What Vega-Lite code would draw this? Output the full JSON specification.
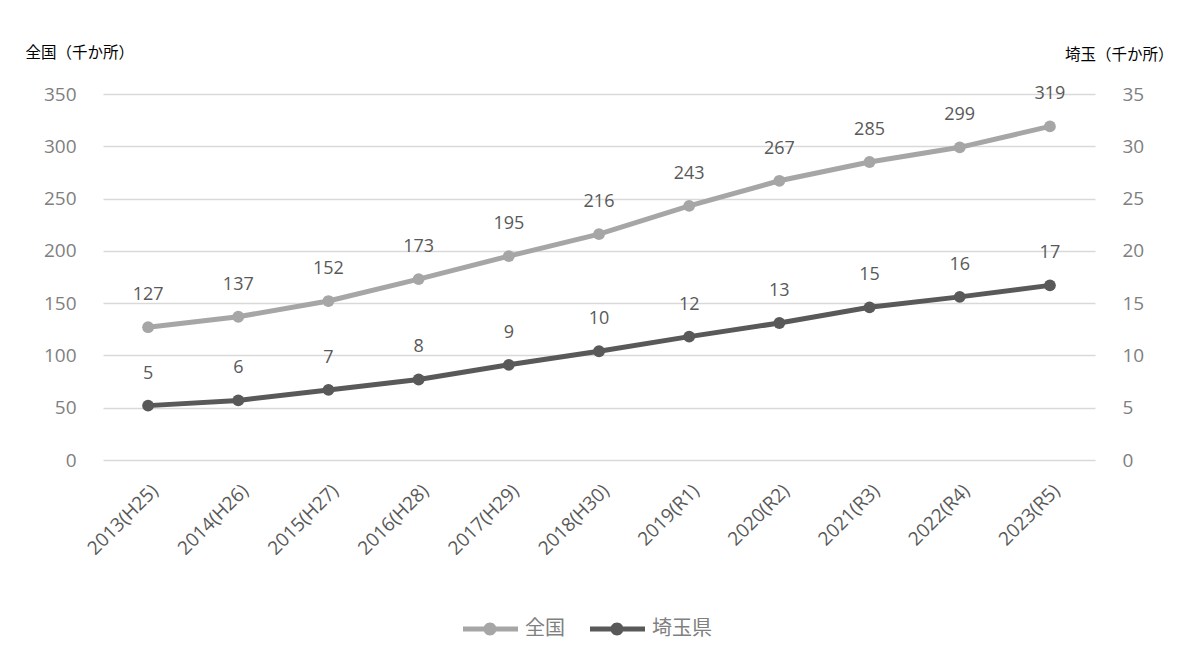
{
  "$schema": "https://vega.github.io/schema/vega-lite/v6.json",
  "width": 992,
  "height": 366,
  "autosize": "none",
  "padding": {"left": 103, "top": 94, "right": 87, "bottom": 200},
  "background": "#ffffff",
  "config": {
    "view": {"stroke": null},
    "font": "Open Sans",
    "axis": {"domain": false, "ticks": false, "grid": false, "labelFont": "Open Sans"}
  },
  "data": {
    "values": [
      {"year": "2013(H25)", "series": "全国", "value": 127},
      {"year": "2014(H26)", "series": "全国", "value": 137},
      {"year": "2015(H27)", "series": "全国", "value": 152},
      {"year": "2016(H28)", "series": "全国", "value": 173},
      {"year": "2017(H29)", "series": "全国", "value": 195},
      {"year": "2018(H30)", "series": "全国", "value": 216},
      {"year": "2019(R1)", "series": "全国", "value": 243},
      {"year": "2020(R2)", "series": "全国", "value": 267},
      {"year": "2021(R3)", "series": "全国", "value": 285},
      {"year": "2022(R4)", "series": "全国", "value": 299},
      {"year": "2023(R5)", "series": "全国", "value": 319},
      {"year": "2013(H25)", "series": "埼玉県", "value": 5.2},
      {"year": "2014(H26)", "series": "埼玉県", "value": 5.7},
      {"year": "2015(H27)", "series": "埼玉県", "value": 6.7},
      {"year": "2016(H28)", "series": "埼玉県", "value": 7.7},
      {"year": "2017(H29)", "series": "埼玉県", "value": 9.1},
      {"year": "2018(H30)", "series": "埼玉県", "value": 10.4},
      {"year": "2019(R1)", "series": "埼玉県", "value": 11.8},
      {"year": "2020(R2)", "series": "埼玉県", "value": 13.1},
      {"year": "2021(R3)", "series": "埼玉県", "value": 14.6},
      {"year": "2022(R4)", "series": "埼玉県", "value": 15.6},
      {"year": "2023(R5)", "series": "埼玉県", "value": 16.7}
    ]
  },
  "encoding": {
    "x": {
      "field": "year",
      "type": "nominal",
      "sort": null,
      "scale": {"type": "point", "padding": 0.5},
      "axis": {
        "title": null,
        "labelAngle": -45,
        "labelFontSize": 19,
        "labelColor": "#595959",
        "labelPadding": 21
      }
    },
    "color": {
      "field": "series",
      "type": "nominal",
      "scale": {"domain": ["全国", "埼玉県"], "range": ["#a6a6a6", "#595959"]},
      "legend": {
        "title": null,
        "orient": "none",
        "direction": "horizontal",
        "legendX": 377,
        "legendY": 525,
        "padding": 0,
        "symbolType": "M-2.7,-0.25H2.8V0.25H-2.7Z M-0.65,0A0.65,0.65 0 1,1 0.65,0A0.65,0.65 0 1,1 -0.65,0Z",
        "symbolSize": 400,
        "symbolStrokeWidth": 0,
        "labelOffset": 25,
        "columnPadding": 25,
        "labelFont": "Noto Sans CJK JP",
        "labelFontSize": 20,
        "labelColor": "#808080",
        "encode": {
          "symbols": {
            "update": {
              "fill": {"scale": "color", "field": "value"},
              "stroke": {"value": "transparent"},
              "opacity": {"value": 1}
            }
          }
        }
      }
    }
  },
  "layer": [
    {
      "transform": [{"filter": "datum.series === '全国'"}],
      "encoding": {
        "y": {
          "field": "value",
          "type": "quantitative",
          "scale": {"domain": [0, 350], "nice": false},
          "axis": {
            "orient": "left",
            "values": [0, 50, 100, 150, 200, 250, 300, 350],
            "grid": true,
            "gridColor": "#d9d9d9",
            "gridWidth": 1.5,
            "labelFontSize": 19,
            "labelColor": "#7f7f7f",
            "labelPadding": 27,
            "title": "全国（千か所）",
            "titleFont": "Noto Sans CJK JP",
            "titleFontSize": 15.5,
            "titleFontWeight": "normal",
            "titleColor": "#000000",
            "titleAngle": 0,
            "titleAlign": "left",
            "titleBaseline": "middle",
            "titleX": -78,
            "titleY": -42
          }
        }
      },
      "layer": [
        {"mark": {"type": "line", "strokeWidth": 5}},
        {"mark": {"type": "point", "filled": true, "size": 140, "opacity": 1}},
        {
          "mark": {"type": "text", "dy": -32, "fontSize": 18, "baseline": "middle", "font": "Open Sans"},
          "encoding": {
            "text": {"field": "value", "type": "quantitative", "format": ".0f"},
            "color": {"value": "#595959"}
          }
        }
      ]
    },
    {
      "transform": [{"filter": "datum.series === '埼玉県'"}],
      "encoding": {
        "y": {
          "field": "value",
          "type": "quantitative",
          "scale": {"domain": [0, 35], "nice": false},
          "axis": {
            "orient": "right",
            "values": [0, 5, 10, 15, 20, 25, 30, 35],
            "grid": false,
            "labelFontSize": 19,
            "labelColor": "#7f7f7f",
            "labelPadding": 27,
            "title": "埼玉（千か所）",
            "titleFont": "Noto Sans CJK JP",
            "titleFontSize": 15.5,
            "titleFontWeight": "normal",
            "titleColor": "#000000",
            "titleAngle": 0,
            "titleAlign": "right",
            "titleBaseline": "middle",
            "titleX": 78,
            "titleY": -40
          }
        }
      },
      "layer": [
        {"mark": {"type": "line", "strokeWidth": 5}},
        {"mark": {"type": "point", "filled": true, "size": 140, "opacity": 1}},
        {
          "mark": {"type": "text", "dy": -32, "fontSize": 18, "baseline": "middle", "font": "Open Sans"},
          "encoding": {
            "text": {"field": "value", "type": "quantitative", "format": ".0f"},
            "color": {"value": "#595959"}
          }
        }
      ]
    }
  ],
  "resolve": {"scale": {"y": "independent"}, "axis": {"y": "independent"}}
}
